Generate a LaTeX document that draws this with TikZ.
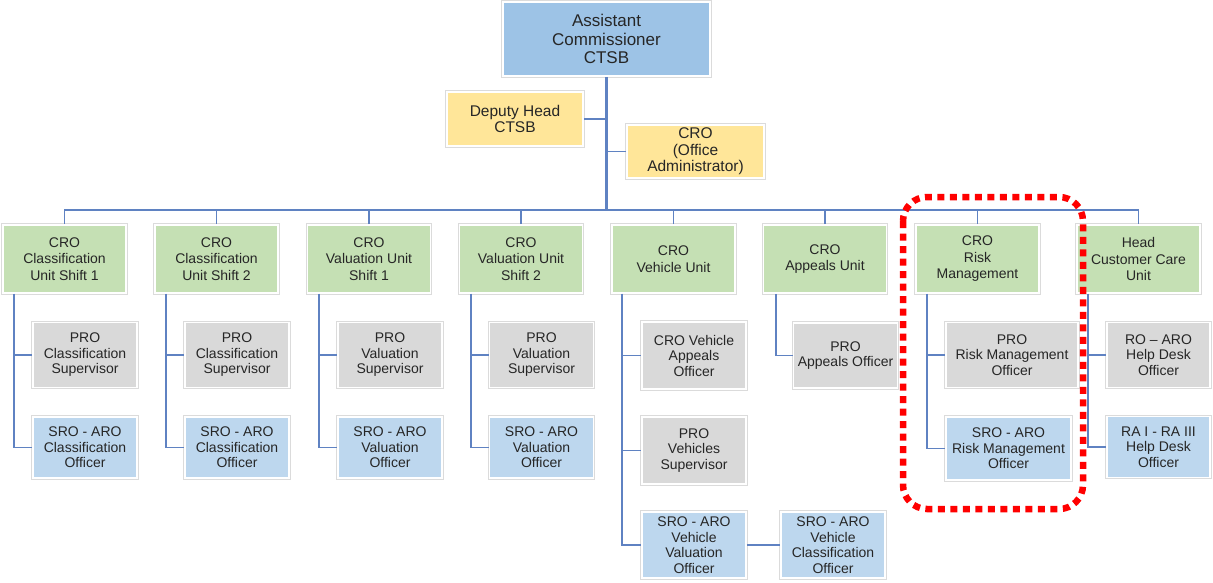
\documentclass[tikz,border=0pt]{standalone}
\usepackage{fontspec}
\setmainfont{Liberation Sans}
\usetikzlibrary{calc}
\definecolor{topblue}{HTML}{9DC3E6}
\definecolor{ylw}{HTML}{FFE699}
\definecolor{grn}{HTML}{C5E0B4}
\definecolor{gry}{HTML}{D9D9D9}
\definecolor{lblue}{HTML}{BDD7EE}
\definecolor{lnk}{HTML}{5F82C2}
\definecolor{txt}{HTML}{262626}
\begin{document}
\begin{tikzpicture}[x=1pt,y=-1pt,
  box/.style={preaction={draw=black!14,line width=3.2pt},draw=white,line width=1.8pt,
    align=center,inner sep=1pt,text=txt,font=\fontsize{14}{16}\selectfont},
  topbox/.style={box,fill=topblue,minimum width=207,minimum height=74,font=\fontsize{17}{18.5}\selectfont},
  ybox/.style={box,fill=ylw,font=\fontsize{15.5}{16.5}\selectfont},
  gbox/.style={box,fill=grn,minimum width=123,minimum height=68,font=\fontsize{14}{16.5}\selectfont},
  pbox/.style={box,fill=gry,minimum width=104,minimum height=65,font=\fontsize{14}{15.5}\selectfont},
  sbox/.style={box,fill=lblue,minimum width=104,minimum height=61,font=\fontsize{14}{15.5}\selectfont},
  link/.style={draw=lnk,line width=1.8pt},
  trunk/.style={draw=lnk,line width=2.4pt}]
\useasboundingbox (0,0) rectangle (1213,582);

\node[topbox] (top) at (606.5,39) {Assistant\\Commissioner\\CTSB};
\node[ybox,minimum width=136,minimum height=54] (dep) at (515,119) {Deputy Head\\CTSB};
\node[ybox,minimum width=137,minimum height=53] (adm) at (695.5,151.5) {CRO\\(Office\\Administrator)};
\coordinate (bus) at (606.5,210);

\node[gbox] (l1) at (64.5,259) {CRO\\Classification\\Unit Shift 1};
\node[gbox] (l2) at (216.5,259) {CRO\\Classification\\Unit Shift 2};
\node[gbox] (l3) at (369,259) {CRO\\Valuation Unit\\Shift 1};
\node[gbox] (l4) at (521,259) {CRO\\Valuation Unit\\Shift 2};
\node[gbox] (l5) at (673.5,259) {CRO\\Vehicle Unit};
\node[gbox] (l6) at (825,259) {CRO\\Appeals Unit};
\node[gbox] (l7) at (977.5,259) {CRO\\Risk\\Management};
\node[gbox] (l8) at (1138.5,259) {Head\\Customer Care\\Unit};

\node[pbox] (a1) at (85,355) {PRO\\Classification\\Supervisor};
\node[sbox] (b1) at (85,447.5) {SRO - ARO\\Classification\\Officer};
\node[pbox] (a2) at (237,355) {PRO\\Classification\\Supervisor};
\node[sbox] (b2) at (237,447.5) {SRO - ARO\\Classification\\Officer};
\node[pbox] (a3) at (390,355) {PRO\\Valuation\\Supervisor};
\node[sbox] (b3) at (390,447.5) {SRO - ARO\\Valuation\\Officer};
\node[pbox] (a4) at (541.5,355) {PRO\\Valuation\\Supervisor};
\node[sbox] (b4) at (541.5,447.5) {SRO - ARO\\Valuation\\Officer};
\node[pbox,minimum height=67] (a5) at (694,355.5) {CRO Vehicle\\Appeals\\Officer};
\node[pbox,minimum height=67] (b5) at (694,450.5) {PRO\\Vehicles\\Supervisor};
\node[sbox,minimum height=66] (c5) at (694,545) {SRO - ARO\\Vehicle\\Valuation\\Officer};
\node[sbox,minimum height=66] (d5) at (833,545) {SRO - ARO\\Vehicle\\Classification\\Officer};
\node[pbox] (a6) at (845.5,355.5) {PRO\\Appeals Officer};
\node[pbox,minimum width=132] (a7) at (1012,355) {PRO\\Risk Management\\Officer};
\node[sbox,minimum width=125,minimum height=63] (b7) at (1008.5,448.5) {SRO - ARO\\Risk Management\\Officer};
\node[pbox,minimum width=103] (a8) at (1158.5,355) {RO – ARO\\Help Desk\\Officer};
\node[sbox,minimum width=103] (b8) at (1158.5,447) {RA I - RA III\\Help Desk\\Officer};

% top connectors
\draw[trunk] (top.south) -- (bus);
\draw[link] (dep.east) -- (dep.east -| top.south);
\draw[link] (adm.west) -- (adm.west -| top.south);
\draw[link] (l1.north) -- (l1.north |- bus) -- (l8.north |- bus) -- (l8.north);
\foreach \n in {l2,l3,l4,l5,l6,l7} \draw[link] (\n.north) -- (\n.north |- bus);

% child connectors
\foreach \p/\ch/\last in {l1/a1/b1,l2/a2/b2,l3/a3/b3,l4/a4/b4,l7/a7/b7,l8/a8/b8}{
  \draw[link] ($(\p.south west)+(12,0)$) |- (\last.west);
  \draw[link] ($(\p.south west)+(12,0)$) |- (\ch.west);
}
\draw[link] ($(l5.south west)+(11,0)$) |- (c5.west);
\draw[link] ($(l5.south west)+(11,0)$) |- (a5.west);
\draw[link] ($(l5.south west)+(11,0)$) |- (b5.west);
\draw[link] (c5.east) -- (d5.west);
\draw[link] ($(l6.south west)+(13,0)$) |- (a6.west);

% highlight
\draw[red,line width=6.5pt,dash pattern=on 7pt off 5.5pt,rounded corners=24pt] (903,197) rectangle (1083,509);
\end{tikzpicture}
\end{document}
